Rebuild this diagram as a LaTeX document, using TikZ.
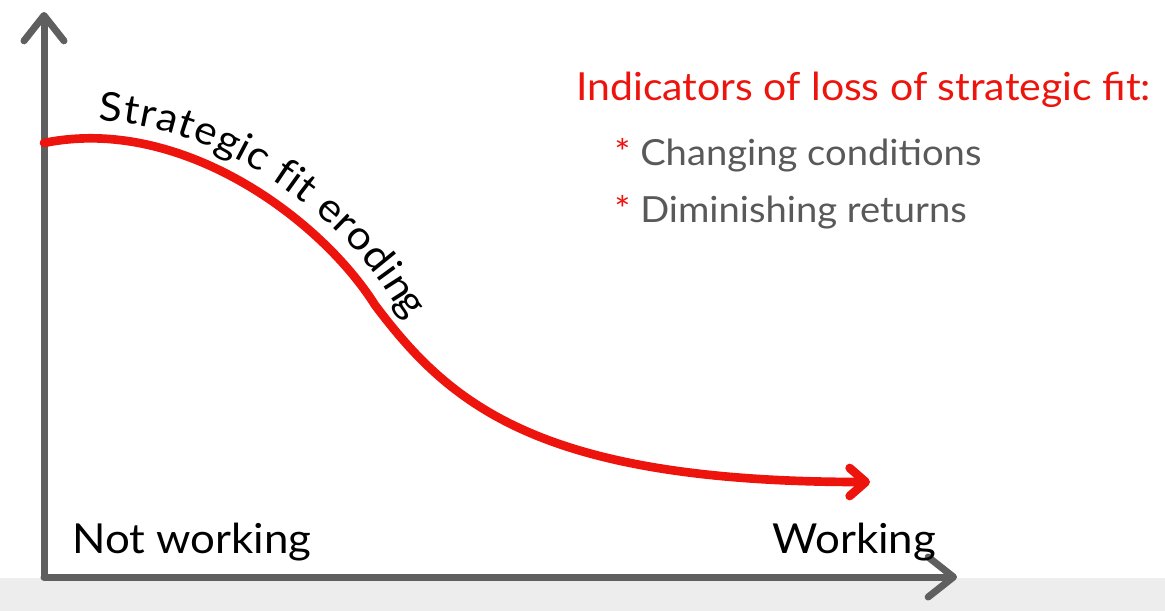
\documentclass[tikz,border=0pt]{standalone}
\usepackage{fontspec}
\setmainfont{Lato}[FakeStretch=1.06]
\usetikzlibrary{arrows.meta,decorations.text}
\definecolor{fitred}{RGB}{236,20,12}
\definecolor{axisgray}{RGB}{95,95,95}
\definecolor{textgray}{RGB}{89,89,89}
\definecolor{floorgray}{RGB}{237,237,237}
\begin{document}
\begin{tikzpicture}
    [
    x=0.75pt,y=-0.75pt,
    axis/.style={draw=axisgray,line width=5.25pt,line cap=round,-{Straight Barb[length=19pt,width=30pt,line cap=round,line join=round]}},
    fitcurve/.style={draw=fitred,line width=6.5pt,line cap=round,-{Straight Barb[length=12pt,width=21pt,line cap=round,line join=round]}},
    axislabel/.style={anchor=base west,inner sep=0pt,font=\fontsize{31}{37}\selectfont},
    headline/.style={anchor=base west,inner sep=0pt,text=fitred,font=\fontsize{29}{35}\selectfont},
    item/.style={anchor=base west,inner sep=0pt,text=textgray,font=\fontsize{27}{32}\selectfont}
    ]
    \useasboundingbox (0,0) rectangle (1165,611);
    \fill [floorgray] (0,578) rectangle (1165,611);
    \coordinate (origin) at (44,577);
    \coordinate (ytop) at (44,12);
    \coordinate (xend) at (957,577);
    \coordinate (fitstart) at (44,143);
    \coordinate (bend) at (375,305);
    \coordinate (fitend) at (870,482);
    \draw [axis] (origin) -- (ytop);
    \draw [axis] (origin) -- (xend);
    \draw [fitcurve] (fitstart) .. controls (180,115) and (320,218) .. (bend)
      .. controls (450,405) and (540,482) .. (fitend);
    \path [decorate,decoration={text along path,raise=13pt,text align={left indent=40pt},
      text={|\fontsize{30}{36}\selectfont|Strategic fit eroding}}]
      (fitstart) .. controls (180,115) and (320,218) .. (bend)
      .. controls (450,405) and (540,482) .. (fitend);
    \node (notworking) at (72,553) [axislabel] {Not working};
    \node (working) at (772,553) [axislabel] {Working};
    \node (indicators) at (576,100) [headline] {Indicators of loss of strategic fit:};
    \node (changing) at (614,165) [item] {\textcolor{fitred}{*}\ Changing conditions};
    \node (diminishing) at (614,222) [item] {\textcolor{fitred}{*} Diminishing returns};
  \end{tikzpicture}
\end{document}
